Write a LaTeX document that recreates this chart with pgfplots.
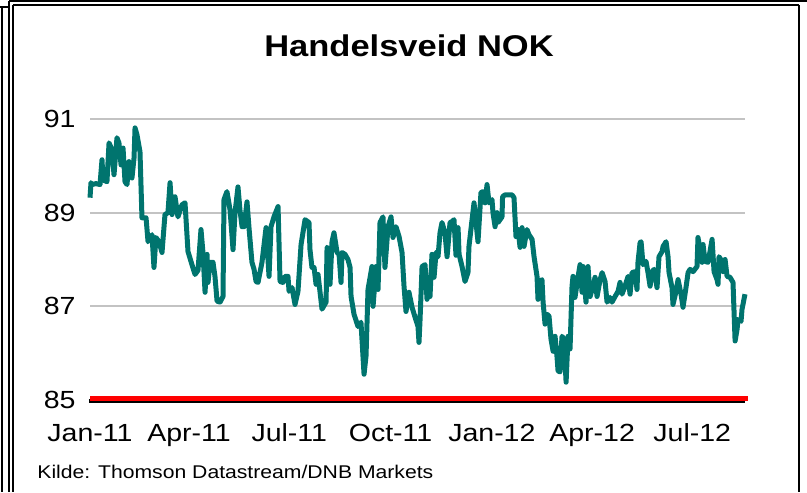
\documentclass[border=0pt]{standalone}
\usepackage{fontspec}
\setmainfont{Liberation Sans}[FakeStretch=1.15]
\usepackage{pgfplots}
\pgfplotsset{compat=1.18}
\definecolor{tealc}{RGB}{0,116,110}
\definecolor{gridc}{RGB}{195,195,195}
\definecolor{redl}{RGB}{255,0,0}
\pgfplotstableread{
t v
0 89.32
0.9 89.64
1.8 89.60
5.4 89.62
9.1 89.60
10.9 90.13
11.8 89.70
15.4 89.66
17.3 90.49
20 90.34
21.8 89.81
24.5 90.60
26.3 90.49
28.2 90.02
30 90.38
31.8 89.66
33.6 89.60
35.4 90.09
38.1 89.74
40 90.17
40.9 90.81
42.7 90.66
45.4 90.30
47.2 88.89
50.9 88.89
52.7 88.38
56.3 88.53
58.1 87.83
59.9 88.47
62.7 88.38
65.4 88.15
68.1 88.96
70.8 89.00
72.7 89.64
74.5 88.96
77.2 89.34
79.9 88.91
83.6 89.17
86.3 89.21
89 88.17
92.6 87.89
95.4 87.68
98.1 87.77
100.8 88.64
102.6 88.15
104.5 87.30
106.3 88.11
107.2 87.51
109 87.94
111.7 87.94
113.5 87.64
115.4 87.11
118.1 87.09
120.8 87.21
121.7 89.28
124.4 89.45
127.2 89.06
129.9 88.21
131.7 89.00
134.4 89.55
136.2 89.06
138.1 88.70
139.9 88.70
142.6 89.23
144.4 88.68
147.1 87.94
149 87.79
150.8 87.53
152.6 87.51
156.2 87.94
159.9 88.68
162.6 87.64
164.4 88.70
167.1 88.91
170.8 89.13
172.6 87.53
175.3 87.51
177.1 87.64
179.8 87.64
180.8 87.32
183.5 87.40
186.2 87.04
188.9 87.32
191.7 88.32
195.3 88.85
198.9 88.79
199.8 88.21
201.6 87.83
203.5 87.83
205.3 87.47
207.1 87.68
210.7 86.94
214.4 87.09
215.3 88.26
217.1 88.21
218 87.47
219.8 88.38
221.6 88.57
224.4 88.15
226.2 88.11
228 87.51
228.9 88.15
231.6 88.11
234.3 88.00
236.2 87.83
237.1 87.21
239.8 86.83
243.4 86.57
246.1 86.66
248.9 85.55
250.7 85.94
252.5 87.36
256.1 87.85
257.1 87.00
259.8 87.85
261.6 87.36
263.4 88.79
266.1 88.91
267.9 87.83
270.7 88.70
273.4 88.91
275.2 88.47
277.9 88.70
280.7 88.49
283.4 88.15
285.2 87.43
287 86.89
289.7 87.30
292.5 86.98
295.2 86.77
297.9 86.57
298.8 86.23
299.7 86.68
301.6 87.85
304.3 87.89
306.1 87.15
307 87.40
308.8 87.21
310.6 88.11
312.5 87.62
314.3 88.15
316.1 88.06
317.9 88.57
319.7 88.79
322.4 88.57
324.3 88.06
327 88.79
328.8 88.81
330.6 88.85
332.4 88.09
334.3 88.68
335.2 88.11
337.9 87.85
340.6 87.53
343.3 87.72
344.2 88.28
347 88.85
348.8 89.21
350.6 88.79
352.4 88.38
355.1 89.43
357 89.45
358.8 89.21
360.6 89.60
362.4 89.21
365.1 89.28
366 89.00
367.9 88.70
369.7 89.00
370.6 88.79
374.2 88.91
374.7 89.34
376.9 89.38
383.3 89.38
385.1 89.32
386.9 88.49
388.8 88.64
390.6 88.26
392.4 88.68
394.2 88.28
396.9 88.64
398.7 88.53
401.5 88.43
403.3 88.06
406 87.64
406.9 87.15
408.7 87.53
410.5 87.57
411.5 87.09
413.3 86.62
415.1 86.83
416.9 86.79
418.7 86.30
420.6 86.04
422.4 86.36
424.2 85.91
425.1 85.62
426.9 85.60
428.7 86.36
430.5 86.30
432.4 85.38
434.2 86.36
436 86.09
437.8 87.43
438.7 87.64
440.5 87.19
443.3 87.64
445.1 87.89
446.9 87.30
447.8 87.85
450.5 87.09
452.3 87.85
454.2 87.21
456.9 87.43
458.7 87.62
460.5 87.21
463.3 87.57
465.1 87.72
467.8 87.53
469.6 87.09
472.3 87.19
474.1 87.09
476.9 87.21
479.6 87.32
481.4 87.51
483.2 87.26
485.9 87.43
488.7 87.64
490.5 87.26
492.3 87.72
495 87.74
496.8 87.36
497.7 87.94
499.6 88.36
500.5 88.38
502.3 87.89
505 87.96
506.8 87.72
508.7 87.43
510.5 87.74
512.3 87.79
515 87.40
516.8 88.06
519.6 88.17
520.5 88.28
523.2 88.38
525 88.06
525.9 87.72
528.6 87.40
529.5 87.04
532.3 87.32
534.1 87.57
536.8 87.26
538.6 86.98
541.3 87.40
543.2 87.72
545 87.79
547.7 87.74
551.3 87.85
552.2 88.47
554.1 88.21
555.9 87.94
556.8 88.32
558.6 87.96
561.3 87.94
563.1 88.17
565 88.43
566.8 87.74
569.5 87.57
570.4 87.47
571.3 88.06
574 87.96
575 87.74
576.8 88.00
578.6 87.64
581.3 87.62
584 87.51
585.9 86.26
587.7 86.51
588.6 86.72
591.3 86.68
592.2 86.94
594.9 87.26
}\nok
\begin{document}
\begin{tikzpicture}
\path[use as bounding box] (0,0) rectangle (403.5pt,246pt);
\begin{scope}[x=0.5pt,y=-0.5pt,yshift=246pt]
 \draw[line width=0.8pt] (2,7) -- (2,492);
 \draw[line width=0.8pt] (0,7) -- (9,7);
 \draw[line width=0.8pt] (9,1) -- (9,492);
 \draw[line width=0.8pt] (13,5) -- (13,492);
 \draw[line width=0.8pt] (9,1) -- (807,1);
 \draw[line width=0.8pt] (13,5) -- (799,5);
 \draw[line width=1pt] (799,5) -- (799,492);
\end{scope}
\node[font=\bfseries\fontsize{15}{17}\selectfont] at (204.5pt,223pt) {Handelsveid NOK};
\node[anchor=west, inner sep=0pt, font=\fontsize{9.2}{11}\selectfont] at (18.5pt,10pt) {Kilde: Thomson Datastream/DNB Markets};
\begin{axis}[
  at={(45pt,46pt)}, anchor=south west, scale only axis,
  width=327.5pt, height=140.5pt,
  xmin=0, xmax=594.9, ymin=85, ymax=91,
  clip=false,
  axis line style={draw=none},
  major tick length=0pt,
  ytick={85,87,89,91},
  xtick={0,90,181,273,365,456,547},
  xticklabels={Jan-11,Apr-11,Jul-11,Oct-11,Jan-12,Apr-12,Jul-12},
  ymajorgrids,
  grid style={gridc, line width=1pt},
  /pgf/number format/assume math mode=true,
  tick label style={font=\fontsize{12.4}{14}\selectfont},
  yticklabel style={anchor=east, inner sep=0pt, xshift=-7pt},
  xticklabel style={anchor=base, inner sep=0pt, yshift=-20.8pt},
]
\addplot[black, line width=2pt] coordinates {(-1,84.97) (595,84.97)};
\addplot[redl, line width=2.5pt] coordinates {(0,85.03) (597.6,85.03)};
\addplot[tealc, line width=2.5pt, line join=round, mark=none] table[x=t,y=v] {\nok};
\end{axis}
\end{tikzpicture}
\end{document}
